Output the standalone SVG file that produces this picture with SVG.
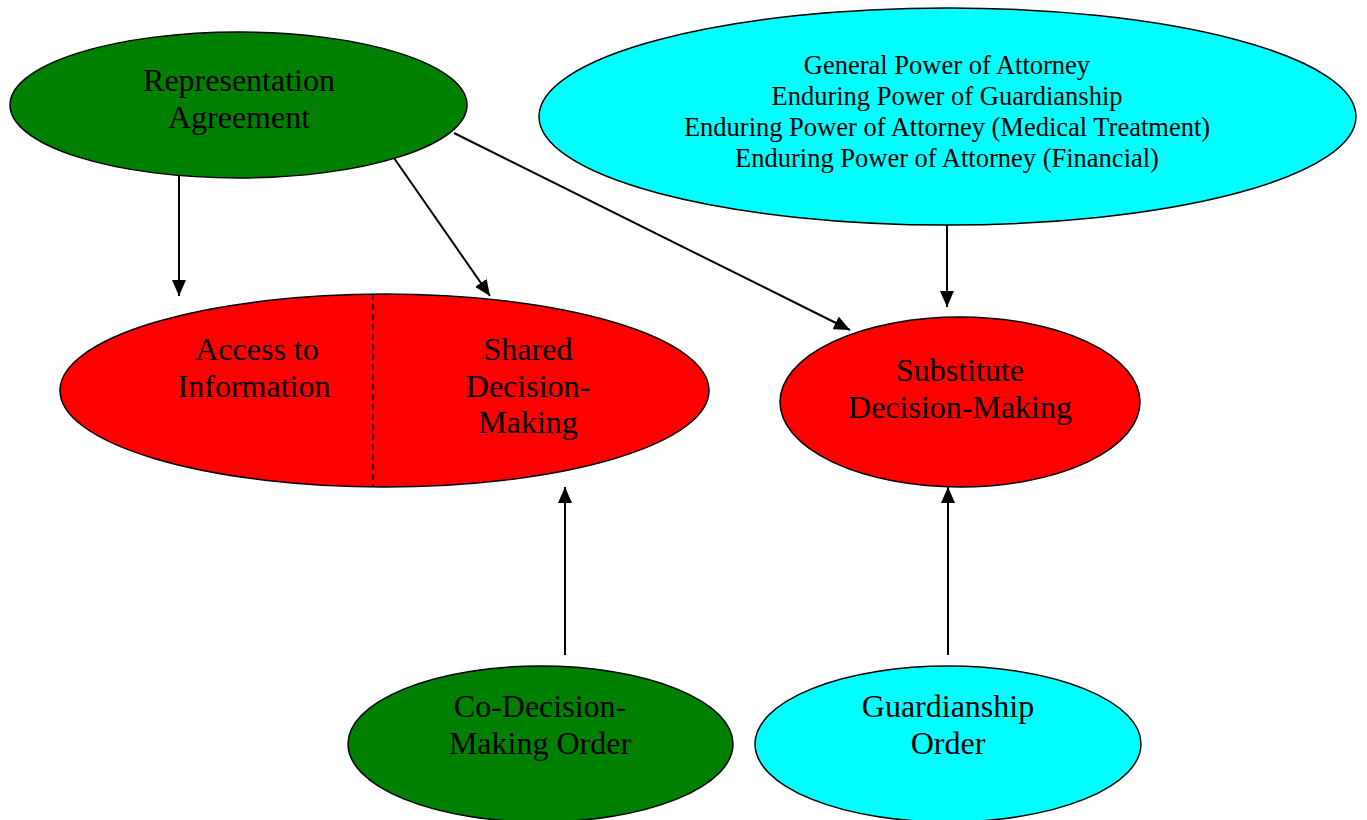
<svg xmlns="http://www.w3.org/2000/svg" width="1367" height="820" viewBox="0 0 1367 820">
<defs>
<style>
.node{stroke:#000;stroke-width:1.5}
.green{fill:#008000}
.red{fill:#ff0000}
.cyan{fill:#00ffff}
.big{font-family:"Liberation Serif","Times New Roman",serif;font-size:32px;fill:#000;text-anchor:middle}
.small{font-family:"Liberation Serif","Times New Roman",serif;font-size:26.5px;fill:#000;text-anchor:middle}
.edge{stroke:#000;stroke-width:2;fill:none;marker-end:url(#arrow)}
</style>
<marker id="arrow" viewBox="0 0 16 14" refX="16" refY="7" markerWidth="16" markerHeight="14" markerUnits="userSpaceOnUse" orient="auto">
<path d="M0,0 L16,7 L0,14 Z" fill="#000"/>
</marker>
</defs>
<rect width="1367" height="820" fill="#fff"/>
<g id="connectors">
<line class="edge" x1="179" y1="176" x2="179" y2="296"/>
<line class="edge" x1="394" y1="158" x2="490" y2="296"/>
<line class="edge" x1="454" y1="133" x2="850" y2="330"/>
<line class="edge" x1="947" y1="225" x2="947" y2="307"/>
<line class="edge" x1="565" y1="655" x2="565" y2="487"/>
<line class="edge" x1="948" y1="655" x2="948" y2="487"/>
</g>
<g id="representation-agreement">
<ellipse class="node green" cx="238.5" cy="105" rx="228.5" ry="73"/>
<text class="big" x="239" y="91">Representation</text>
<text class="big" x="239" y="128">Agreement</text>
</g>
<g id="powers-of-attorney">
<ellipse class="node cyan" cx="947.5" cy="116.5" rx="408.5" ry="108.5"/>
<text class="small" x="947" y="74">General Power of Attorney</text>
<text class="small" x="947" y="105">Enduring Power of Guardianship</text>
<text class="small" x="947" y="136">Enduring Power of Attorney (Medical Treatment)</text>
<text class="small" x="947" y="167">Enduring Power of Attorney (Financial)</text>
</g>
<g id="access-shared">
<ellipse class="node red" cx="384.5" cy="390.5" rx="324.5" ry="96.5"/>
<line x1="373" y1="294" x2="373" y2="487" stroke="#000" stroke-width="1.5" stroke-dasharray="6,4"/>
<text class="big" x="257" y="360">Access to</text>
<text class="big" x="254" y="397">Information</text>
<text class="big" x="528" y="360">Shared</text>
<text class="big" x="528" y="397">Decision-</text>
<text class="big" x="528" y="433">Making</text>
</g>
<g id="substitute-decision-making">
<ellipse class="node red" cx="960" cy="402" rx="180" ry="85"/>
<text class="big" x="960" y="381">Substitute</text>
<text class="big" x="960" y="418">Decision-Making</text>
</g>
<g id="co-decision-making-order">
<ellipse class="node green" cx="540.5" cy="744" rx="192.5" ry="78"/>
<text class="big" x="540" y="717">Co-Decision-</text>
<text class="big" x="540" y="754">Making Order</text>
</g>
<g id="guardianship-order">
<ellipse class="node cyan" cx="948" cy="744" rx="193" ry="78"/>
<text class="big" x="948" y="717">Guardianship</text>
<text class="big" x="948" y="754">Order</text>
</g>
</svg>
